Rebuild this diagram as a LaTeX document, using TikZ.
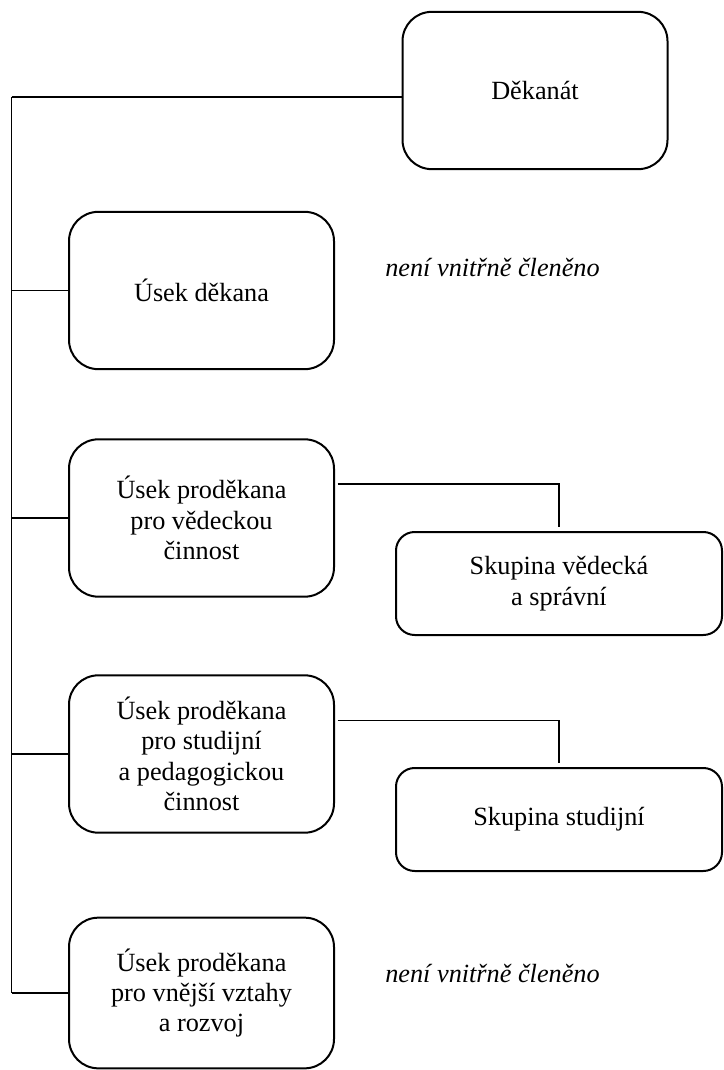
\documentclass[tikz,border=0pt]{standalone}
\usepackage{fontspec}
\setmainfont{Liberation Serif}
\usetikzlibrary{positioning}

\begin{document}
\begin{tikzpicture}[
    x=0.75pt, y=-0.75pt,
    every node/.style={font=\fontsize{19.7}{22.8}\selectfont},
    unit/.style={rectangle, rounded corners=22pt, draw=black, line width=1.5pt, minimum height=118pt, minimum width=198.75pt, align=center, inner sep=0pt},
    group/.style={rectangle, rounded corners=14pt, draw=black, line width=1.5pt, minimum height=77.25pt, minimum width=244.5pt, align=center, inner sep=0pt},
    note/.style={font=\fontsize{19.7}{22.8}\selectfont\itshape},
    link/.style={draw=black, line width=0.9pt}
]
    \useasboundingbox (0,0) rectangle (724,1070);

    % Dean's office
    \node[unit] (dekanat) at (535,90.5) {Děkanát};

    % Sections
    \node[unit] (usekdek) at (201.5,290.5) {Úsek děkana};
    \node[unit] (vedecka) at (201.5,518) {Úsek proděkana\\pro vědeckou\\činnost};
    \node[unit] (studijni) at (201.5,754) {Úsek proděkana\\pro studijní\\a pedagogickou\\činnost};
    \node[unit, minimum height=113pt] (vnejsi) at (201.5,993) {Úsek proděkana\\pro vnější vztahy\\a rozvoj};

    % Groups
    \node[group] (skupved) at (559,583.5) {Skupina vědecká\\a správní};
    \node[group] (skupstud) at (559,819.5) {Skupina studijní};

    % Notes
    \node[note] (note1) at (492.5,267) {není vnitřně členěno};
    \node[note] (note2) at (492.5,973) {není vnitřně členěno};

    % Connections
    \coordinate (top) at (11.5,97);
    \coordinate (bottom) at (11.5,993);
    \draw[link, line width=1.1pt] (top) -- (bottom);
    \draw[link] (top) -- (top -| dekanat.west);
    \draw[link] (usekdek.west -| top) -- (usekdek.west);
    \draw[link] (vedecka.west -| top) -- (vedecka.west);
    \draw[link] (studijni.west -| top) -- (studijni.west);
    \draw[link] (bottom) -- (vnejsi.west);

    \draw[link] ([xshift=2pt,yshift=25.5pt]vedecka.east) -| ([yshift=3pt]skupved.north);
    \draw[link] ([xshift=2pt,yshift=25pt]studijni.east) -| ([yshift=3pt]skupstud.north);
\end{tikzpicture}
\end{document}
